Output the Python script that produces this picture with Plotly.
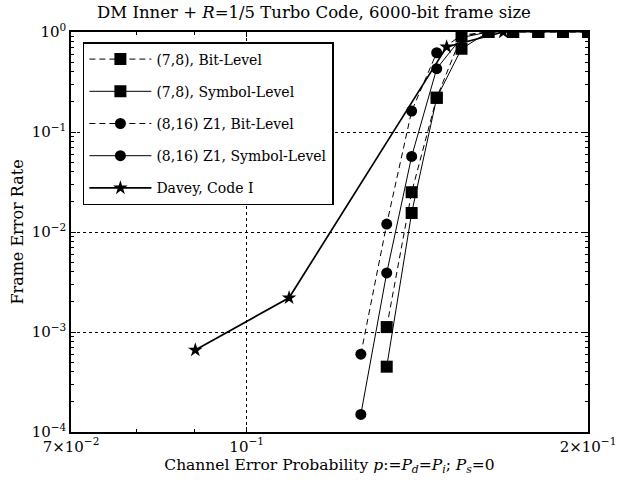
import plotly.graph_objects as go

# ---- data ----
x_sq = [0.1329, 0.1398, 0.1471, 0.1547, 0.1634, 0.1718, 0.1808, 0.1901, 0.2]
fer_78_bit = [1.12e-3, 0.025, 0.22, 0.91, 1.0, 1.0, 1.0, 1.0, 1.0]
fer_78_sym = [4.5e-4, 0.0155, 0.22, 0.68, 1.0, 1.0, 1.0, 1.0, 1.0]

x_ci = [0.1261, 0.1329, 0.1398, 0.1471, 0.1547, 0.1634]
fer_z1_bit = [6.0e-4, 0.012, 0.162, 0.62, 0.93, 1.0]
fer_z1_sym = [1.5e-4, 3.9e-3, 0.057, 0.43, 0.88, 1.0]

x_davey = [0.0901, 0.1090, 0.1501, 0.1684]
fer_davey = [6.6e-4, 2.2e-3, 0.71, 1.0]

names = ["(7,8), Bit-Level", "(7,8), Symbol-Level", "(8,16) Z1, Bit-Level",
         "(8,16) Z1, Symbol-Level", "Davey, Code I"]

x_tickvals = [0.07, 0.1, 0.2]
x_ticktext = ["7\u00d710<sup>\u22122</sup>", "10<sup>\u22121</sup>", "2\u00d710<sup>\u22121</sup>"]
y_tickvals = [1e-4, 1e-3, 1e-2, 1e-1, 1]
y_ticktext = ["10<sup>\u22124</sup>", "10<sup>\u22123</sup>", "10<sup>\u22122</sup>",
              "10<sup>\u22121</sup>", "10<sup>0</sup>"]

FONT = "DejaVu Serif"

fig = go.Figure()
series = [
    (x_sq, fer_78_bit, "square", "6px,4px", 12, 1),
    (x_sq, fer_78_sym, "square", "solid", 12, 1),
    (x_ci, fer_z1_bit, "circle", "6px,4px", 11, 1),
    (x_ci, fer_z1_sym, "circle", "solid", 11, 1),
    (x_davey, fer_davey, "star", "solid", 11, 1.7),
]
for i, (xs, ys, sym, dash, ms, lw) in enumerate(series):
    fig.add_trace(go.Scatter(
        x=xs, y=ys, name=names[i], mode="lines+markers",
        line=dict(color="black", width=lw, dash=dash),
        marker=dict(symbol=sym, size=ms, color="black"),
        legendgroup="g%d" % i,
    ))

y_minor = [m * 10.0 ** e for e in range(-4, 0) for m in range(2, 10)]

fig.update_layout(
    width=628, height=484,
    margin=dict(l=71, r=38, t=32, b=52),
    paper_bgcolor="white", plot_bgcolor="white",
    font=dict(family=FONT, size=15, color="black"),
    title=dict(text="DM Inner + <i>R</i>=1/5 Turbo Code, 6000-bit frame size",
               x=0.5, xanchor="center", y=0.975, yanchor="middle",
               font=dict(family=FONT, size=16.5)),
    showlegend=True,
    legend=dict(x=0.023, y=0.975, xanchor="left", yanchor="top",
                bgcolor="white", bordercolor="black", borderwidth=1.5,
                font=dict(family=FONT, size=14), traceorder="grouped",
                tracegroupgap=11, itemwidth=62),
)
fig.update_xaxes(
    type="log", range=[-1.1549, -0.69897],
    tickvals=x_tickvals, ticktext=x_ticktext,
    ticks="inside", ticklen=5, tickcolor="black",
    showline=True, linecolor="black", linewidth=1.5, mirror="allticks",
    showgrid=True, gridcolor="black", griddash="dot", gridwidth=1,
    minor=dict(tickvals=[0.08, 0.09], ticks="inside", ticklen=3, tickcolor="black", showgrid=False),
    zeroline=False,
    title=dict(text="Channel Error Probability <i>p</i>:=<i>P<sub>d</sub></i>=<i>P<sub>i</sub></i>; <i>P<sub>s</sub></i>=0",
               font=dict(family=FONT, size=15.5), standoff=4),
    tickfont=dict(family=FONT, size=15),
)
fig.update_yaxes(
    type="log", range=[-4, 0],
    tickvals=y_tickvals, ticktext=y_ticktext,
    ticks="inside", ticklen=5, tickcolor="black",
    showline=True, linecolor="black", linewidth=1.5, mirror="allticks",
    showgrid=True, gridcolor="black", griddash="dot", gridwidth=1,
    minor=dict(tickvals=y_minor, ticks="inside", ticklen=3, tickcolor="black", showgrid=False),
    zeroline=False,
    title=dict(text="Frame Error Rate", font=dict(family=FONT, size=16), standoff=4),
    tickfont=dict(family=FONT, size=15),
)

fig.write_html("out.html")
